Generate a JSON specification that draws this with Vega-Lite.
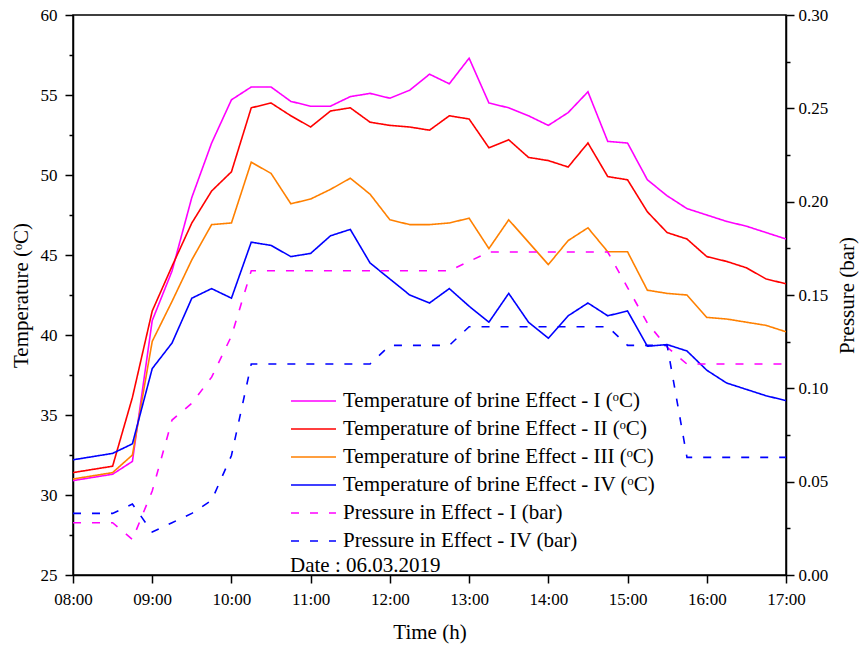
{
  "$schema": "https://vega.github.io/schema/vega-lite/v6.json",
  "width": 713,
  "height": 560,
  "autosize": {"type": "none"},
  "padding": {"left": 73, "top": 15, "right": 73, "bottom": 71},
  "background": "white",
  "config": {
    "font": "Liberation Serif",
    "view": {"stroke": "black", "strokeWidth": 1.5},
    "axis": {
      "domainColor": "black", "domainWidth": 1.5, "tickColor": "black", "tickWidth": 1.5,
      "labelFont": "Liberation Serif", "labelFontSize": 17, "labelColor": "black",
      "titleFont": "Liberation Serif", "titleFontSize": 21, "titleFontWeight": "normal", "titleColor": "black",
      "grid": false, "labelFlush": false, "labelOverlap": false, "labelBound": false
    }
  },
  "data": {"values": [
    {"time": "2019-03-06T08:00", "T1": 30.9, "T2": 31.4, "T3": 31.0, "T4": 32.2, "P1": 0.028, "P4": 0.033},
    {"time": "2019-03-06T08:30", "T1": 31.3, "T2": 31.8, "T3": 31.4, "T4": 32.6, "P1": 0.028, "P4": 0.033},
    {"time": "2019-03-06T08:45", "T1": 32.1, "T2": 36.1, "T3": 32.5, "T4": 33.2, "P1": 0.019, "P4": 0.038},
    {"time": "2019-03-06T09:00", "T1": 40.9, "T2": 41.5, "T3": 39.6, "T4": 37.9, "P1": 0.045, "P4": 0.023},
    {"time": "2019-03-06T09:15", "T1": 44.0, "T2": 44.3, "T3": 42.1, "T4": 39.5, "P1": 0.083, "P4": 0.028},
    {"time": "2019-03-06T09:30", "T1": 48.6, "T2": 47.0, "T3": 44.7, "T4": 42.3, "P1": 0.092, "P4": 0.033},
    {"time": "2019-03-06T09:45", "T1": 52.0, "T2": 49.0, "T3": 46.9, "T4": 42.9, "P1": 0.106, "P4": 0.040},
    {"time": "2019-03-06T10:00", "T1": 54.7, "T2": 50.2, "T3": 47.0, "T4": 42.3, "P1": 0.128, "P4": 0.064},
    {"time": "2019-03-06T10:15", "T1": 55.5, "T2": 54.2, "T3": 50.8, "T4": 45.8, "P1": 0.163, "P4": 0.113},
    {"time": "2019-03-06T10:30", "T1": 55.5, "T2": 54.5, "T3": 50.1, "T4": 45.6, "P1": 0.163, "P4": 0.113},
    {"time": "2019-03-06T10:45", "T1": 54.6, "T2": 53.7, "T3": 48.2, "T4": 44.9, "P1": 0.163, "P4": 0.113},
    {"time": "2019-03-06T11:00", "T1": 54.3, "T2": 53.0, "T3": 48.5, "T4": 45.1, "P1": 0.163, "P4": 0.113},
    {"time": "2019-03-06T11:15", "T1": 54.3, "T2": 54.0, "T3": 49.1, "T4": 46.2, "P1": 0.163, "P4": 0.113},
    {"time": "2019-03-06T11:30", "T1": 54.9, "T2": 54.2, "T3": 49.8, "T4": 46.6, "P1": 0.163, "P4": 0.113},
    {"time": "2019-03-06T11:45", "T1": 55.1, "T2": 53.3, "T3": 48.8, "T4": 44.5, "P1": 0.163, "P4": 0.113},
    {"time": "2019-03-06T12:00", "T1": 54.8, "T2": 53.1, "T3": 47.2, "T4": 43.5, "P1": 0.163, "P4": 0.123},
    {"time": "2019-03-06T12:15", "T1": 55.3, "T2": 53.0, "T3": 46.9, "T4": 42.5, "P1": 0.163, "P4": 0.123},
    {"time": "2019-03-06T12:30", "T1": 56.3, "T2": 52.8, "T3": 46.9, "T4": 42.0, "P1": 0.163, "P4": 0.123},
    {"time": "2019-03-06T12:45", "T1": 55.7, "T2": 53.7, "T3": 47.0, "T4": 42.9, "P1": 0.163, "P4": 0.123},
    {"time": "2019-03-06T13:00", "T1": 57.3, "T2": 53.5, "T3": 47.3, "T4": 41.8, "P1": 0.168, "P4": 0.133},
    {"time": "2019-03-06T13:15", "T1": 54.5, "T2": 51.7, "T3": 45.4, "T4": 40.8, "P1": 0.173, "P4": 0.133},
    {"time": "2019-03-06T13:30", "T1": 54.2, "T2": 52.2, "T3": 47.2, "T4": 42.6, "P1": 0.173, "P4": 0.133},
    {"time": "2019-03-06T13:45", "T1": 53.7, "T2": 51.1, "T3": 45.8, "T4": 40.8, "P1": 0.173, "P4": 0.133},
    {"time": "2019-03-06T14:00", "T1": 53.1, "T2": 50.9, "T3": 44.4, "T4": 39.8, "P1": 0.173, "P4": 0.133},
    {"time": "2019-03-06T14:15", "T1": 53.9, "T2": 50.5, "T3": 45.9, "T4": 41.2, "P1": 0.173, "P4": 0.133},
    {"time": "2019-03-06T14:30", "T1": 55.2, "T2": 52.0, "T3": 46.7, "T4": 42.0, "P1": 0.173, "P4": 0.133},
    {"time": "2019-03-06T14:45", "T1": 52.1, "T2": 49.9, "T3": 45.2, "T4": 41.2, "P1": 0.173, "P4": 0.133},
    {"time": "2019-03-06T15:00", "T1": 52.0, "T2": 49.7, "T3": 45.2, "T4": 41.5, "P1": 0.154, "P4": 0.123},
    {"time": "2019-03-06T15:15", "T1": 49.7, "T2": 47.7, "T3": 42.8, "T4": 39.3, "P1": 0.135, "P4": 0.123},
    {"time": "2019-03-06T15:30", "T1": 48.7, "T2": 46.4, "T3": 42.6, "T4": 39.4, "P1": 0.122, "P4": 0.123},
    {"time": "2019-03-06T15:45", "T1": 47.9, "T2": 46.0, "T3": 42.5, "T4": 39.0, "P1": 0.113, "P4": 0.063},
    {"time": "2019-03-06T16:00", "T1": 47.5, "T2": 44.9, "T3": 41.1, "T4": 37.8, "P1": 0.113, "P4": 0.063},
    {"time": "2019-03-06T16:15", "T1": 47.1, "T2": 44.6, "T3": 41.0, "T4": 37.0, "P1": 0.113, "P4": 0.063},
    {"time": "2019-03-06T16:30", "T1": 46.8, "T2": 44.2, "T3": 40.8, "T4": 36.6, "P1": 0.113, "P4": 0.063},
    {"time": "2019-03-06T16:45", "T1": 46.4, "T2": 43.5, "T3": 40.6, "T4": 36.2, "P1": 0.113, "P4": 0.063},
    {"time": "2019-03-06T17:00", "T1": 46.0, "T2": 43.2, "T3": 40.2, "T4": 35.9, "P1": 0.113, "P4": 0.063}
  ]},
  "layer": [
    {
      "transform": [
        {"fold": ["T1", "T2", "T3", "T4"], "as": ["key", "temperature"]},
        {"lookup": "key", "from": {"data": {"values": [
          {"key": "T1", "series": "Temperature of brine Effect - I (ᵒC)"},
          {"key": "T2", "series": "Temperature of brine Effect - II (ᵒC)"},
          {"key": "T3", "series": "Temperature of brine Effect - III (ᵒC)"},
          {"key": "T4", "series": "Temperature of brine Effect - IV (ᵒC)"}
        ]}, "key": "key", "fields": ["series"]}}
      ],
      "mark": {"type": "line", "strokeWidth": 1.6, "clip": true},
      "encoding": {
        "x": {
          "field": "time", "type": "temporal", "title": "Time (h)",
          "scale": {"domain": [{"year": 2019, "month": 3, "date": 6, "hours": 8}, {"year": 2019, "month": 3, "date": 6, "hours": 17}], "nice": false},
          "axis": {
            "values": [
              {"year": 2019, "month": 3, "date": 6, "hours": 8, "minutes": 0},
              {"year": 2019, "month": 3, "date": 6, "hours": 8, "minutes": 30},
              {"year": 2019, "month": 3, "date": 6, "hours": 9, "minutes": 0},
              {"year": 2019, "month": 3, "date": 6, "hours": 9, "minutes": 30},
              {"year": 2019, "month": 3, "date": 6, "hours": 10, "minutes": 0},
              {"year": 2019, "month": 3, "date": 6, "hours": 10, "minutes": 30},
              {"year": 2019, "month": 3, "date": 6, "hours": 11, "minutes": 0},
              {"year": 2019, "month": 3, "date": 6, "hours": 11, "minutes": 30},
              {"year": 2019, "month": 3, "date": 6, "hours": 12, "minutes": 0},
              {"year": 2019, "month": 3, "date": 6, "hours": 12, "minutes": 30},
              {"year": 2019, "month": 3, "date": 6, "hours": 13, "minutes": 0},
              {"year": 2019, "month": 3, "date": 6, "hours": 13, "minutes": 30},
              {"year": 2019, "month": 3, "date": 6, "hours": 14, "minutes": 0},
              {"year": 2019, "month": 3, "date": 6, "hours": 14, "minutes": 30},
              {"year": 2019, "month": 3, "date": 6, "hours": 15, "minutes": 0},
              {"year": 2019, "month": 3, "date": 6, "hours": 15, "minutes": 30},
              {"year": 2019, "month": 3, "date": 6, "hours": 16, "minutes": 0},
              {"year": 2019, "month": 3, "date": 6, "hours": 16, "minutes": 30},
              {"year": 2019, "month": 3, "date": 6, "hours": 17, "minutes": 0}
            ],
            "format": "%H:%M",
            "labelExpr": "minutes(datum.value) === 0 ? datum.label : ''",
            "labelFont": "Liberation Serif", "labelFontSize": 17,
            "tickSize": {"condition": {"test": "minutes(datum.value) === 0", "value": 8}, "value": 4},
            "labelPadding": 8,
            "titlePadding": 14
          }
        },
        "y": {
          "field": "temperature", "type": "quantitative", "title": "Temperature (ᵒC)",
          "scale": {"domain": [25, 60], "nice": false, "zero": false},
          "axis": {
            "values": [25, 27.5, 30, 32.5, 35, 37.5, 40, 42.5, 45, 47.5, 50, 52.5, 55, 57.5, 60],
            "labelExpr": "datum.value % 5 === 0 ? datum.label : ''",
            "labelFont": "Liberation Serif", "labelFontSize": 17,
            "tickSize": {"condition": {"test": "datum.value % 5 === 0", "value": 8}, "value": 4},
            "labelPadding": 8,
            "titlePadding": 9
          }
        },
        "color": {
          "field": "series", "type": "nominal",
          "scale": {
            "domain": ["Temperature of brine Effect - I (ᵒC)", "Temperature of brine Effect - II (ᵒC)", "Temperature of brine Effect - III (ᵒC)", "Temperature of brine Effect - IV (ᵒC)", "Pressure in Effect - I (bar)", "Pressure in Effect - IV (bar)"],
            "range": ["#FF00FF", "#FF0000", "#FF8000", "#0000FF", "#FF00FF", "#0000FF"]
          },
          "legend": {
            "title": "Date : 06.03.2019",
            "orient": "none", "legendX": 217, "legendY": 373,
            "titleOrient": "bottom", "titleAnchor": "start", "titleFont": "Liberation Serif", "titleFontSize": 21, "titleFontWeight": "normal", "titleColor": "black", "titlePadding": 1,
            "labelFont": "Liberation Serif", "labelFontSize": 21, "labelColor": "black", "labelLimit": 0,
            "symbolType": "stroke", "symbolSize": 2025, "symbolStrokeWidth": 1.6, "labelOffset": 6,
            "clipHeight": 26, "rowPadding": 2, "padding": 0
          }
        },
        "strokeDash": {
          "field": "series", "type": "nominal",
          "scale": {
            "domain": ["Temperature of brine Effect - I (ᵒC)", "Temperature of brine Effect - II (ᵒC)", "Temperature of brine Effect - III (ᵒC)", "Temperature of brine Effect - IV (ᵒC)", "Pressure in Effect - I (bar)", "Pressure in Effect - IV (bar)"],
            "range": [[1, 0], [1, 0], [1, 0], [1, 0], [8, 11], [8, 11]]
          },
          "legend": {"title": "Date : 06.03.2019"}
        }
      }
    },
    {
      "transform": [
        {"fold": ["P1", "P4"], "as": ["key", "pressure"]},
        {"lookup": "key", "from": {"data": {"values": [
          {"key": "P1", "series": "Pressure in Effect - I (bar)"},
          {"key": "P4", "series": "Pressure in Effect - IV (bar)"}
        ]}, "key": "key", "fields": ["series"]}}
      ],
      "mark": {"type": "line", "strokeWidth": 1.6, "clip": true},
      "encoding": {
        "x": {"field": "time", "type": "temporal"},
        "y": {
          "field": "pressure", "type": "quantitative", "title": "Pressure (bar)",
          "scale": {"domain": [0, 0.3], "nice": false},
          "axis": {
            "orient": "right",
            "values": [0, 0.025, 0.05, 0.075, 0.1, 0.125, 0.15, 0.175, 0.2, 0.225, 0.25, 0.275, 0.3],
            "format": ".2f",
            "labelExpr": "round(datum.value * 1000) % 50 === 0 ? datum.label : ''",
            "labelFont": "Liberation Serif", "labelFontSize": 17,
            "tickSize": {"condition": {"test": "round(datum.value * 1000) % 50 === 0", "value": 8}, "value": 4},
            "labelPadding": 4,
            "titleAngle": 270,
            "titlePadding": 30
          }
        },
        "color": {"field": "series", "type": "nominal"},
        "strokeDash": {"field": "series", "type": "nominal"}
      }
    }
  ],
  "resolve": {"scale": {"y": "independent"}}
}
